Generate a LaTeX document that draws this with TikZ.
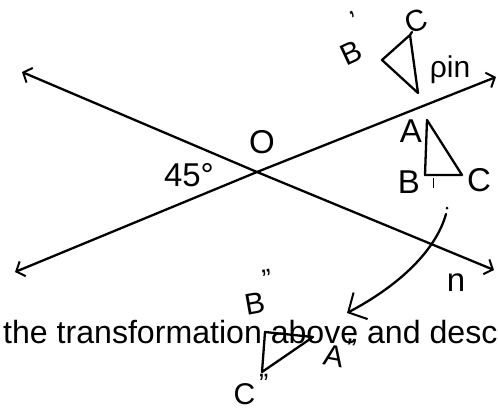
\documentclass[tikz,border=0pt]{standalone}
\usepackage{fontspec}
\setmainfont{Liberation Sans}
\usetikzlibrary{arrows.meta}
\newcommand{\prsize}{\fontsize{28}{28}\selectfont}
\begin{document}
\begin{tikzpicture}[x=1pt,y=-1pt,
  ink/.style={line width=2.3pt, line cap=round, line join=round},
  barbs/.style={{Straight Barb[length=7pt,width=16pt,line width=2pt]}-{Straight Barb[length=7pt,width=16pt,line width=2pt]}},
  bigbarb/.style={-{Straight Barb[length=14pt,width=30pt,line width=2pt]}},
  lbl/.style={inner sep=0pt, font=\fontsize{33}{34}\selectfont},
  hand/.style={inner sep=0pt, font=\fontsize{30}{31}\selectfont}]
\useasboundingbox (0,0) rectangle (498,408);
% text line
\node[anchor=base west, inner sep=0pt, font=\fontsize{32.1}{34}\selectfont] (txt) at (3,343) {the transformation above and desc};
% lines m and n
\coordinate (m1) at (15,272); \coordinate (m2) at (496,77);
\coordinate (n1) at (22,72);  \coordinate (n2) at (494,270);
\coordinate (O) at (257,172);
\draw[ink,barbs] (m1) -- (O) -- (m2);
\draw[ink,barbs] (n1) -- (O) -- (n2);
\node[lbl] (Olbl) at (262,142) {O};
\node[lbl] (ang) at (189,175) {45°};
\node[lbl] (nlbl) at (456,283) {n};
% triangle ABC
\coordinate (A) at (427,120); \coordinate (B) at (425,175); \coordinate (C) at (462,175);
\draw[ink] (A) -- (B) -- (C) -- cycle;
\draw[line width=0.6pt] (433,178) -- (433,188);
\node[lbl] (Albl) at (411,131) {A};
\node[lbl] (Blbl) at (409,182) {B};
\node[lbl] (Clbl) at (479,180) {C};
% triangle A'B'C'
\coordinate (Ap) at (418,93); \coordinate (Bp) at (382,60); \coordinate (Cp) at (410,35);
\draw[ink] (Ap) -- (Bp) -- (Cp) -- cycle;
\draw[ink] (Cp) -- (412,32);
\node[hand, rotate=25, anchor=base] (Bplbl) at (360,60) {B\kern4pt\raisebox{0.95em}{\prsize '}};
\node[hand, rotate=20, anchor=base] (Cplbl) at (424,29) {C\kern2pt\raisebox{0.45em}{\prsize '}};
\node[hand] (pin) at (450,70) {ρin};
% curved arrow
\coordinate (s) at (447,208);
\coordinate (t) at (347,313);
\fill (s) circle (1.5pt);
\draw[ink,bigbarb] (446,214) .. controls (436,250) and (400,285) .. (t);
% triangle A''B''C''
\coordinate (App) at (313,337); \coordinate (Bpp) at (265,332); \coordinate (Cpp) at (262,372);
\draw[ink] (Bpp) -- (App) -- (Cpp) -- cycle;
\node[hand, rotate=10, anchor=base] (Bpplbl) at (262,313) {B\kern2pt\raisebox{0.75em}{\prsize ''}};
\node[hand, rotate=-10, anchor=base] (Applbl) at (337,367) {A\kern1pt\raisebox{0.35em}{\prsize ''}};
\node[hand, anchor=base] (Cpplbl) at (251,404) {C\kern4pt\raisebox{0.35em}{\prsize ''}};
\end{tikzpicture}
\end{document}
